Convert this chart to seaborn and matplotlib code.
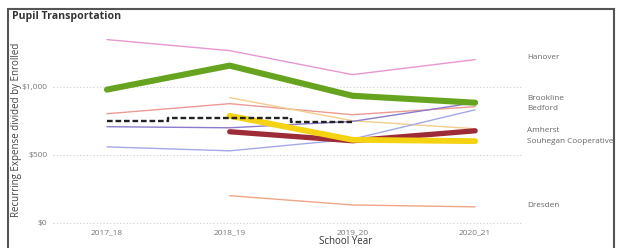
import numpy as np
import pandas as pd
import matplotlib
matplotlib.use("Agg")
import matplotlib.pyplot as plt
import seaborn as sns
from matplotlib.patches import Rectangle

years = ["2017_18", "2018_19", "2019_20", "2020_21"]
hanover = [1345, 1264, 1088, 1198]
brookline = [978, 1154, 933, 882]
bedford = [801, 875, 794, 853]
amherst = [np.nan, 669, 603, 676]
souhegan = [np.nan, 786, 610, 600]
dresden = [np.nan, 200, 132, 118]
district_purple = [706, 698, 745, 882]
district_lavender = [558, 529, 615, 830]
district_peach = [np.nan, 919, 750, 691]
state_avg = [750, 772, 742, np.nan]

series = {
    "Hanover": hanover,
    "Brookline": brookline,
    "Bedford": bedford,
    "Amherst": amherst,
    "Souhegan Cooperative": souhegan,
    "Dresden": dresden,
    "District A": district_purple,
    "District B": district_lavender,
    "District C": district_peach,
    "State Average": state_avg,
}
labelled = ["Hanover", "Brookline", "Bedford", "Amherst", "Souhegan Cooperative", "Dresden"]

rows = []
for name, vals in series.items():
    for i, (y, v) in enumerate(zip(years, vals)):
        rows.append({"district": name, "year": y, "x": i, "value": v})
df = pd.DataFrame(rows)

styles = {
    "Hanover": dict(color="#E896CF", lw=1.0, z=2),
    "Bedford": dict(color="#EB9A94", lw=1.0, z=2),
    "District C": dict(color="#F2CD8E", lw=1.0, z=2),
    "District B": dict(color="#A3A8E6", lw=1.0, z=2),
    "District A": dict(color="#8C7BCC", lw=1.0, z=2),
    "Dresden": dict(color="#EFA588", lw=1.0, z=2),
    "Amherst": dict(color="#9E2B38", lw=3.8, z=4),
    "Souhegan Cooperative": dict(color="#F5D312", lw=4.2, z=5),
    "Brookline": dict(color="#66A420", lw=4.4, z=6),
}

sns.set_theme(style="white")
plt.rcParams["font.family"] = ["Open Sans", "DejaVu Sans"]

fig = plt.figure(figsize=(6.19, 2.48), dpi=100)
W, H = 619, 248
ax = fig.add_axes([53 / W, 1 - 225 / H, (523 - 53) / W, (225 - 28) / H])

for name, st in styles.items():
    d = df[df["district"] == name].dropna()
    sns.lineplot(data=d, x="x", y="value", ax=ax, color=st["color"],
                 linewidth=st["lw"], zorder=st["z"], legend=False,
                 solid_capstyle="round")

d = df[df["district"] == "State Average"].dropna()
sns.lineplot(data=d, x="x", y="value", ax=ax, color="#222222", linewidth=1.7,
             linestyle=(0, (2.4, 1.2)), drawstyle="steps-mid", zorder=7, legend=False)

ax.set_xlim(-0.44, 3.39)
ax.set_ylim(-15, 1430)
ax.set_xticks(range(len(years)))
ax.set_xticklabels(years)
ax.set_yticks([0, 500, 1000])
ax.set_yticklabels(["$0", "$500", "$1,000"])
ax.tick_params(axis="both", labelsize=6, colors="#777777", length=0, pad=4)
ax.tick_params(axis="x", pad=3)
for yv in [0, 500, 1000]:
    ax.axhline(yv, color="#CCCCCC", lw=0.8, ls=(0, (1, 2)), zorder=1)
for s in ax.spines.values():
    s.set_visible(False)
ax.set_xlabel("")
ax.set_ylabel("")

# end labels
nudge = {"Brookline": 30, "Bedford": -15, "Hanover": 15, "Dresden": 7}
for name in labelled:
    v = series[name][-1]
    ax.annotate(name, xy=(1.0, v + nudge.get(name, 0)), xycoords=("axes fraction", "data"),
                xytext=(3, 0), textcoords="offset points", fontsize=5.9, color="#666666",
                va="center", ha="left", annotation_clip=False)

fig.text(12 / W, 1 - 17 / H, "Pupil Transportation", fontsize=7.6, color="#333333",
         fontweight="bold", va="center", ha="left")
fig.text(17 / W, 1 - 130 / H, "Recurring Expense divided by Enrolled", rotation=90,
         fontsize=7, color="#444444", va="center", ha="center")
fig.text(346 / W, 1 - 242 / H, "School Year", fontsize=7, color="#333333",
         va="center", ha="center")

fig.patches.append(Rectangle((8 / W, -0.05), (614 - 8) / W, 1.05 - 9 / H,
                             transform=fig.transFigure, fill=False,
                             edgecolor="#555555", linewidth=1.5))

fig.savefig("out.png", dpi=100)
